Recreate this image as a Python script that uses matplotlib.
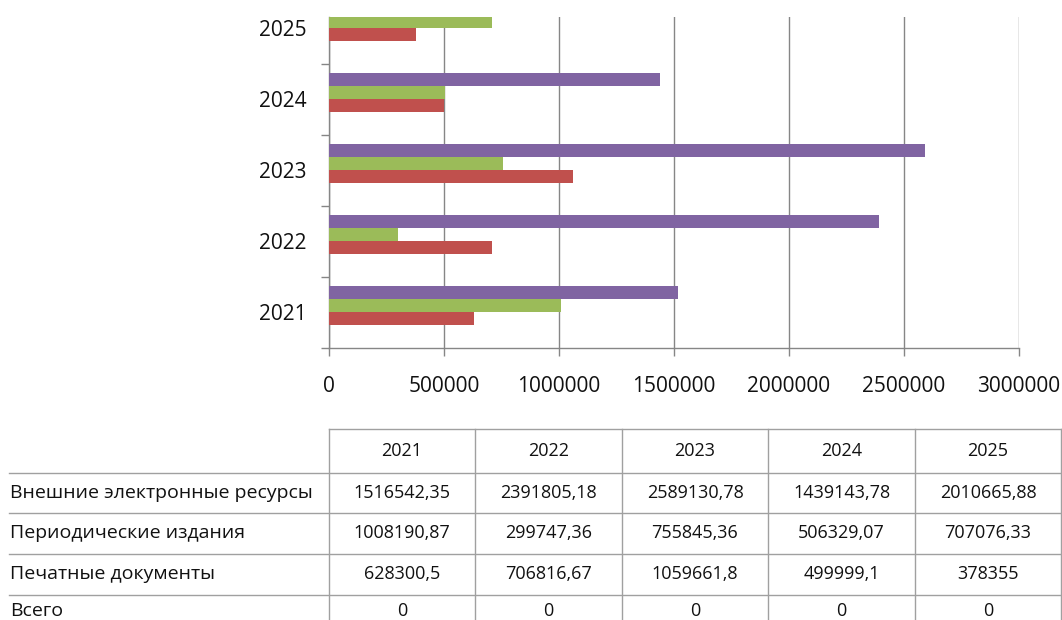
import matplotlib
matplotlib.use('Agg')
import matplotlib.pyplot as plt
import numpy as np

plt.rcParams['font.family'] = ['Open Sans', 'DejaVu Sans']

years = ['2021', '2022', '2023', '2024', '2025']
series_names = ['Внешние электронные ресурсы', 'Периодические издания',
                'Печатные документы', 'Всего']
external = [1516542.35, 2391805.18, 2589130.78, 1439143.78, 2010665.88]
periodicals = [1008190.87, 299747.36, 755845.36, 506329.07, 707076.33]
printed = [628300.5, 706816.67, 1059661.8, 499999.1, 378355]
total = [0, 0, 0, 0, 0]
x_ticks = [0, 500000, 1000000, 1500000, 2000000, 2500000, 3000000]

series_values = [external, periodicals, printed, total]
series_colors = ['#8064A2', '#9BBB59', '#C0504D', '#4BACC6']

W, H = 1062, 620
fig = plt.figure(figsize=(W / 100, H / 100), dpi=100)
fig.patch.set_facecolor('white')

# ---- bar chart ----
ax = fig.add_axes([329 / W, 1 - 348 / H, (1019 - 329) / W, (348 - 17) / H])
y = np.arange(len(years))
h = 0.183
# bottom-to-top: Всего, Печатные, Периодические, Внешние
offsets = {3: -1.5, 2: -0.5, 1: 0.5, 0: 1.5}
for i, vals in enumerate(series_values):
    ax.barh(y + offsets[i] * h, vals, height=h, color=series_colors[i],
            edgecolor='none', zorder=3)

ax.set_xlim(0, 3000000)
ax.set_ylim(-0.5, 4.16)
ax.set_xticks(x_ticks)
ax.set_xticklabels([str(v) for v in x_ticks])
ax.set_yticks(y)
ax.set_yticklabels(years)
ax.set_yticks(np.arange(-0.5, 4.0, 1.0), minor=True)
ax.tick_params(axis='y', which='major', length=0, pad=16, labelsize=15,
               colors='#111111')
ax.tick_params(axis='y', which='minor', length=6, width=1, color='#868686',
               direction='out')
ax.tick_params(axis='x', which='major', length=6, width=1, color='#868686',
               direction='out', pad=14, labelsize=15, labelcolor='#111111')
ax.grid(axis='x', color='#868686', linewidth=1, zorder=0)
for s in ['top', 'right']:
    ax.spines[s].set_visible(False)
for s in ['bottom', 'left']:
    ax.spines[s].set_color('#868686')
    ax.spines[s].set_linewidth(1)

# ---- data table (pixel coordinates) ----
tb = fig.add_axes([0, 0, 1, 1])
tb.set_xlim(0, W)
tb.set_ylim(H, 0)
tb.axis('off')
line_kw = dict(color='#a0a0a0', linewidth=1)

col_x = [329, 475, 622, 768, 915, 1061]
row_y = [429, 472.5, 513, 553.5, 594.5, 628]
tb.plot([329, 1061], [row_y[0]] * 2, **line_kw)
for ry in row_y[1:5]:
    tb.plot([9, 1061], [ry, ry], **line_kw)
for cx in col_x:
    tb.plot([cx, cx], [row_y[0], H], **line_kw)


def fmt(v):
    s = ('%.2f' % v).rstrip('0').rstrip('.')
    return s.replace('.', ',')


num_kw = dict(fontsize=13, color='#111111', va='center')
lab_kw = dict(fontsize=14, color='#111111', va='center')
for j, yr in enumerate(years):
    cx = (col_x[j] + col_x[j + 1]) / 2
    tb.text(cx, (row_y[0] + row_y[1]) / 2, yr, ha='center', **num_kw)
for i, name in enumerate(series_names):
    cy = (row_y[i + 1] + row_y[i + 2]) / 2
    tb.text(10, cy, name, ha='left', **lab_kw)
    for j, v in enumerate(series_values[i]):
        cx = (col_x[j] + col_x[j + 1]) / 2
        tb.text(cx, cy, fmt(v), ha='center', **num_kw)

fig.savefig('out.png', dpi=100, facecolor='white')
